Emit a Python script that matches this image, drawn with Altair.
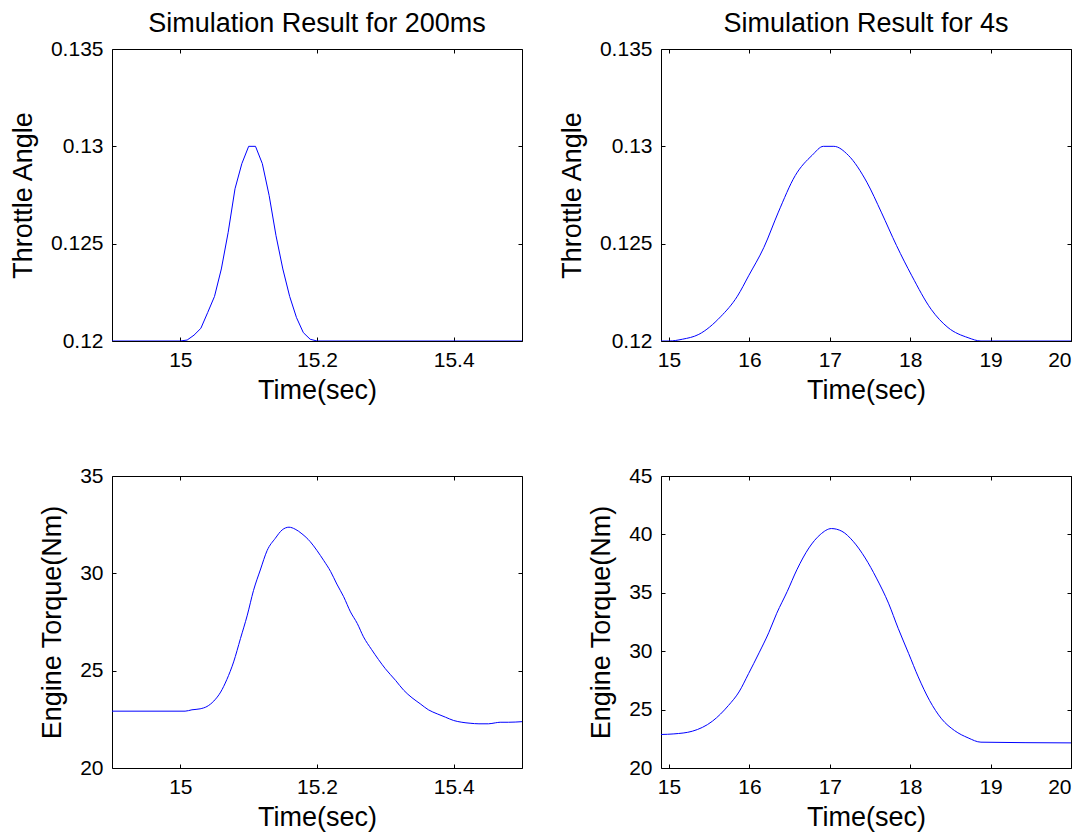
import altair as alt
import pandas as pd

# ---- Data ----
# Throttle angle, 200 ms pulse
ta1_time = [14.9, 15.00, 15.01, 15.02, 15.03, 15.04, 15.05, 15.06, 15.07, 15.08, 15.09,
            15.10, 15.11, 15.12, 15.13, 15.14, 15.15, 15.16, 15.17, 15.18, 15.19, 15.20, 15.5]
ta1_angle = [0.12, 0.12, 0.12005, 0.12030, 0.12065, 0.12146, 0.12229, 0.12370, 0.12558,
             0.12782, 0.12911, 0.13, 0.13, 0.12911, 0.12747, 0.12541, 0.12370, 0.12229,
             0.12120, 0.12043, 0.12009, 0.12, 0.12]

# Throttle angle, 4 s pulse
ta2_time = [14.9, 15.0, 15.165, 15.37, 15.64, 15.85, 15.99, 16.18, 16.36, 16.57, 16.78,
            16.92, 17.05, 17.23, 17.46, 17.64, 17.83, 18.02, 18.26, 18.47, 18.72, 18.88, 20.0]
ta2_angle = [0.12, 0.12, 0.12009, 0.12034, 0.12124, 0.1223, 0.12335, 0.12481, 0.12662,
             0.1285, 0.12954, 0.13, 0.13, 0.12954, 0.12816, 0.12662, 0.1249, 0.12335,
             0.12163, 0.12069, 0.12017, 0.12, 0.12]

# Engine torque, 200 ms pulse
tq1_time = [14.9, 15.007, 15.017, 15.029, 15.039, 15.049, 15.059, 15.068, 15.078, 15.088,
            15.098, 15.107, 15.117, 15.127, 15.139, 15.149, 15.159, 15.168, 15.178, 15.19,
            15.2, 15.21, 15.22, 15.229, 15.239, 15.249, 15.259, 15.268, 15.28, 15.29, 15.3,
            15.315, 15.327, 15.339, 15.351, 15.363, 15.376, 15.388, 15.4, 15.412, 15.424,
            15.437, 15.451, 15.461, 15.468, 15.48, 15.5]
tq1_torque = [22.92, 22.92, 22.99, 23.04, 23.16, 23.44, 23.90, 24.54, 25.45, 26.65,
              27.85, 29.11, 30.17, 31.17, 31.80, 32.23, 32.37, 32.27, 32.03, 31.63,
              31.17, 30.65, 30.09, 29.45, 28.80, 28.02, 27.42, 26.74, 26.08, 25.57, 25.10,
              24.50, 23.99, 23.61, 23.30, 22.99, 22.78, 22.61, 22.44, 22.35, 22.30,
              22.27, 22.27, 22.32, 22.35, 22.35, 22.38]

# Engine torque, 4 s pulse
tq2_time = [14.9, 15.06, 15.29, 15.54, 15.74, 15.87, 15.99, 16.12, 16.24, 16.34, 16.47,
            16.59, 16.74, 16.88, 17.02, 17.15, 17.29, 17.44, 17.58, 17.73, 17.85, 17.98,
            18.10, 18.24, 18.39, 18.55, 18.72, 18.88, 20.0]
tq2_torque = [22.87, 22.92, 23.15, 24.01, 25.36, 26.51, 28.09, 29.86, 31.58, 33.25, 35.11,
              36.97, 38.84, 39.98, 40.50, 40.27, 39.41, 37.98, 36.26, 34.11, 31.96, 29.81,
              27.80, 25.79, 24.21, 23.21, 22.58, 22.21, 22.15]

titles = ["Simulation Result for 200ms", "Simulation Result for 4s"]
x_title = "Time(sec)"
y_titles = ["Throttle Angle", "Engine Torque(Nm)"]

x_ticks_short = [15, 15.2, 15.4]
x_ticks_long = [15, 16, 17, 18, 19, 20]
y_ticks_angle = [0.12, 0.125, 0.13, 0.135]
y_ticks_tq1 = [20, 25, 30, 35]
y_ticks_tq2 = [20, 25, 30, 35, 40, 45]

FONT = "Liberation Sans"
W, H = 410, 292
TICK = 4


def panel(times, values, xdom, xticks, ydom, yticks, ytitle, title=None, interp="linear"):
    df = pd.DataFrame({"t": times, "v": values})
    xs = alt.Scale(domain=xdom, nice=False, zero=False)
    ys = alt.Scale(domain=ydom, nice=False, zero=False)
    common = dict(offset=-TICK, tickSize=TICK, domain=False, grid=False,
                  tickColor="black", tickWidth=1)
    line = alt.Chart(df).mark_line(color="#0000FF", strokeWidth=1, clip=True,
                                   interpolate=interp).encode(
        x=alt.X("t:Q", scale=xs,
                axis=alt.Axis(orient="bottom", values=xticks, format="~g", title=x_title,
                              labelPadding=8, titlePadding=7, **common)),
        y=alt.Y("v:Q", scale=ys,
                axis=alt.Axis(orient="left", values=yticks, format="~g", title=ytitle,
                              labelPadding=9, titlePadding=13, **common)),
    )
    ghost = alt.Chart(df).mark_line(strokeOpacity=0).encode(
        x=alt.X("t:Q", scale=xs,
                axis=alt.Axis(orient="top", values=xticks, labels=False, title=None, **common)),
        y=alt.Y("v:Q", scale=ys,
                axis=alt.Axis(orient="right", values=yticks, labels=False, title=None, **common)),
    )
    ch = alt.layer(line, ghost).resolve_axis(x="independent", y="independent")
    props = dict(width=W, height=H)
    if title:
        props["title"] = alt.TitleParams(title, fontSize=27, font=FONT, fontWeight="normal",
                                         color="black", offset=0)
    return ch.properties(**props)


p1 = panel(ta1_time, ta1_angle, [14.9, 15.5], x_ticks_short, [0.12, 0.135], y_ticks_angle,
           y_titles[0], titles[0])
p2 = panel(ta2_time, ta2_angle, [14.9, 20], x_ticks_long, [0.12, 0.135], y_ticks_angle,
           y_titles[0], titles[1], interp="monotone")
p3 = panel(tq1_time, tq1_torque, [14.9, 15.5], x_ticks_short, [20, 35], y_ticks_tq1,
           y_titles[1], interp="monotone")
p4 = panel(tq2_time, tq2_torque, [14.9, 20], x_ticks_long, [20, 45], y_ticks_tq2,
           y_titles[1], interp="monotone")

chart = alt.concat(p1, p2, p3, p4, columns=2, spacing={"row": 135, "column": 139},
                   bounds="flush").properties(
    padding={"left": 8, "top": 9, "right": 2, "bottom": 2},
    background="white",
).configure_view(stroke="black", strokeWidth=1).configure_axis(
    labelFont=FONT, titleFont=FONT, labelFontSize=21, titleFontSize=27,
    labelColor="black", titleColor="black", titleFontWeight="normal",
)

chart.save("out.html", embed_options={"renderer": "svg", "actions": False})
